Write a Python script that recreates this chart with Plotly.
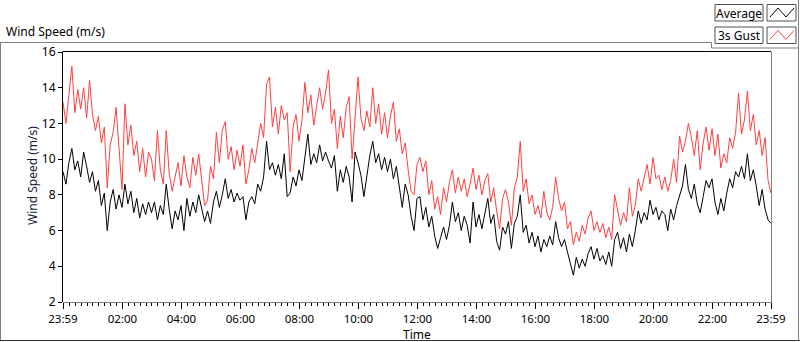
import pandas as pd
import plotly.graph_objects as go

# ---- data (one sample every 6 minutes) ----
start_time = "2015-03-01 23:59"
step = "6min"

average = [
 9.3, 8.6, 9.8, 10.6, 9.4, 9.9, 9.0, 10.4, 9.6, 8.7,
 9.3, 8.2, 8.8, 7.4, 8.1, 6.0, 7.6, 8.3, 7.2, 8.0,
 7.3, 8.6, 7.5, 8.2, 7.0, 7.8, 6.7, 7.5, 6.9, 7.6,
 7.0, 7.6, 6.6, 7.4, 6.9, 8.6, 7.2, 6.1, 7.1, 6.6,
 7.4, 6.0, 7.8, 6.8, 7.6, 7.0, 8.0, 7.2, 6.5, 7.1,
 6.4, 7.6, 8.2, 7.3, 8.0, 8.9, 7.8, 8.3, 7.6, 8.1,
 7.7, 7.9, 6.6, 7.6, 7.9, 7.5, 8.6, 8.2, 9.0, 11.0,
 9.4, 9.8, 9.1, 9.7, 8.9, 10.3, 7.9, 8.1, 9.0, 8.5,
 9.4, 8.8, 10.0, 11.4, 9.7, 10.3, 9.8, 10.8, 9.9, 10.4,
 9.9, 9.5, 10.2, 8.2, 9.4, 8.7, 9.6, 9.0, 7.6, 10.4,
 9.8, 9.1, 7.9, 9.0, 10.2, 11.0, 9.8, 10.3, 9.4, 10.1,
 9.3, 10.0, 8.9, 9.6, 8.4, 7.3, 8.6, 8.0, 6.8, 6.0,
 7.8, 7.9, 6.6, 7.3, 6.2, 6.8, 5.7, 5.0, 5.6, 6.2,
 5.5, 6.3, 7.6, 6.5, 7.0, 6.0, 6.8, 6.3, 5.3, 7.6,
 6.2, 6.9, 6.1, 7.0, 7.8, 6.4, 6.9, 5.4, 4.9, 6.2,
 5.8, 6.5, 5.0, 6.4, 6.8, 8.0, 5.9, 6.3, 5.3, 5.9,
 5.1, 5.7, 4.8, 5.5, 5.1, 5.7, 5.2, 6.5, 5.6, 5.1,
 5.5, 4.8, 4.1, 3.5, 4.5, 3.9, 4.4, 4.0, 4.7, 5.1,
 4.4, 5.0, 4.3, 4.6, 4.1, 4.8, 4.0, 5.5, 5.9, 5.0,
 5.6, 4.8, 5.8, 5.1, 6.0, 7.1, 6.4, 7.0, 6.6, 7.7,
 6.9, 7.3, 6.6, 7.1, 6.9, 6.0, 7.2, 6.6, 7.4, 7.9,
 8.5, 9.7, 8.3, 7.8, 8.6, 7.5, 7.0, 7.9, 8.8, 8.4,
 8.9, 7.6, 6.9, 7.8, 7.1, 8.1, 8.9, 8.4, 9.3, 9.0,
 9.6, 8.9, 10.3, 8.8, 9.4, 8.5, 7.4, 8.3, 7.2, 6.6,
 6.4,
]

gust_3s = [
 13.2, 12.0, 13.6, 15.2, 12.6, 13.9, 12.8, 14.0, 12.3, 14.4,
 12.5, 11.6, 12.4, 10.9, 11.8, 8.4, 10.8, 11.5, 12.9, 10.4,
 8.3, 13.1, 10.8, 11.9, 10.2, 11.0, 9.3, 10.6, 9.0, 10.4,
 10.0, 8.8, 11.6, 9.4, 8.6, 11.6, 9.2, 8.2, 9.0, 9.8,
 8.5, 10.2, 9.0, 8.4, 10.1, 9.1, 10.3, 8.8, 7.4, 7.7,
 9.6, 8.9, 11.5, 9.8, 11.6, 12.1, 10.0, 10.7, 9.4, 10.5,
 9.6, 10.8, 8.6, 9.4, 10.6, 9.8, 10.9, 12.0, 11.2, 14.2,
 14.6, 11.8, 12.9, 11.4, 13.0, 12.2, 12.6, 9.3, 11.8, 12.5,
 11.0, 12.2, 14.3, 12.6, 13.6, 11.9, 13.0, 14.0, 12.8, 13.7,
 15.0, 12.0, 12.8, 10.6, 12.4, 11.2, 12.9, 13.5, 10.0, 12.2,
 14.6, 12.3, 11.6, 12.7, 11.8, 14.0, 12.0, 13.1, 11.4, 12.6,
 11.2, 12.4, 13.2, 11.0, 11.7, 10.3, 10.9, 9.4, 8.2, 8.0,
 9.7, 10.1, 9.3, 9.9, 8.0, 8.8, 7.2, 7.9, 6.9, 8.4,
 7.6, 8.7, 9.4, 8.1, 9.0, 8.2, 8.9, 7.9, 8.6, 9.5,
 8.3, 9.1, 8.0, 8.8, 9.2, 7.6, 8.4, 7.1, 6.1, 7.8,
 8.3, 7.6, 6.3, 8.4, 9.0, 11.0, 8.2, 8.9, 7.5, 8.0,
 6.9, 7.4, 6.7, 8.2, 7.0, 6.6, 7.3, 9.0, 7.8, 7.1,
 7.6, 6.1, 6.5, 5.2, 5.9, 5.4, 6.3, 5.8, 6.7, 7.1,
 6.0, 6.5, 5.9, 6.4, 5.6, 6.2, 5.5, 8.0, 7.1, 6.3,
 7.0, 6.5, 8.4, 6.8, 7.4, 8.9, 8.2, 9.0, 9.7, 8.6,
 10.1, 8.9, 9.1, 8.3, 9.0, 8.2, 8.8, 10.0, 8.7, 11.3,
 10.4, 11.0, 12.0, 11.2, 10.2, 11.6, 9.4, 10.9, 11.8, 10.5,
 11.7, 10.2, 11.4, 9.5, 10.3, 9.8, 11.2, 10.6, 11.5, 13.7,
 11.4, 12.2, 13.8, 11.6, 12.5, 10.8, 11.6, 10.2, 11.2, 8.8,
 8.1,
]

tick_times = ["2015-03-01 23:59", "2015-03-02 02:00", "2015-03-02 04:00",
              "2015-03-02 06:00", "2015-03-02 08:00", "2015-03-02 10:00",
              "2015-03-02 12:00", "2015-03-02 14:00", "2015-03-02 16:00",
              "2015-03-02 18:00", "2015-03-02 20:00", "2015-03-02 22:00",
              "2015-03-02 23:59"]
tick_labels = ["23:59", "02:00", "04:00", "06:00", "08:00", "10:00", "12:00",
               "14:00", "16:00", "18:00", "20:00", "22:00", "23:59"]
y_ticks = [2, 4, 6, 8, 10, 12, 14, 16]

times = pd.date_range(start_time, periods=len(average), freq=step)

FONT = "Noto Sans"
RED = "#FF4040"

fig = go.Figure()
fig.add_trace(go.Scatter(x=times, y=gust_3s, mode="lines", name="3s Gust",
                         line=dict(color=RED, width=1)))
fig.add_trace(go.Scatter(x=times, y=average, mode="lines", name="Average",
                         line=dict(color="#000000", width=1)))

W, H = 800, 342
L, R, T, B = 63, 29, 52, 40
PW, PH = W - L - R, H - T - B


def px(x):
    return (x - L) / PW


def py(y):
    return (H - B - y) / PH


shapes = []


def line(x0, y0, x1, y1, color, width=1):
    shapes.append(dict(type="line", xref="paper", yref="paper",
                       x0=px(x0), y0=py(y0), x1=px(x1), y1=py(y1),
                       line=dict(color=color, width=width), layer="above"))


def rect(x0, y0, x1, y1, color):
    shapes.append(dict(type="rect", xref="paper", yref="paper",
                       x0=px(x0), y0=py(y0), x1=px(x1), y1=py(y1),
                       line=dict(color=color, width=1), fillcolor="white",
                       layer="above"))


# outer frame
line(0, 42.5, 711.5, 42.5, "#808080")
line(711.5, 42.5, 711.5, 48, "#808080")
line(711.5, 48, 799, 48, "#808080")
line(0.5, 42.5, 0.5, 341, "#808080")
line(0, 340.5, 800, 340.5, "#303030")
line(798.5, 0, 798.5, 341, "#808080")

# plot border (sunken look)
line(L, T - 0.5, W - R, T - 0.5, "#000000")
line(L - 0.5, T - 0.5, L - 0.5, H - B, "#000000")
line(L, H - B + 0.5, W - R + 0.5, H - B + 0.5, "#808080")
line(W - R + 0.5, T - 0.5, W - R + 0.5, H - B + 0.5, "#808080")

# legend boxes
rect(715, 4.5, 763, 21, "#505050")
rect(767, 4.5, 796, 21, "#505050")
rect(715, 27, 763, 43.5, "#505050")
rect(767, 27, 796, 43.5, "#505050")
for (yb, yt, col) in [(17, 8, "#000000"), (39.5, 30.5, RED)]:
    pts = [(770, yb), (778, yt), (786, yb), (794, yt)]
    path = "M " + " L ".join(f"{px(a)},{py(b)}" for a, b in pts)
    shapes.append(dict(type="path", xref="paper", yref="paper", path=path,
                       line=dict(color=col, width=1), layer="above"))


def label(text, x, y, angle=0, color="#000000", anchor="center"):
    return dict(text=text, xref="paper", yref="paper", x=px(x), y=py(y),
                xanchor=anchor, yanchor="middle", showarrow=False,
                textangle=angle,
                font=dict(family=FONT, size=12, color=color))


annotations = [
    label("Wind Speed (m/s)", 4, 32, anchor="left"),
    label("Average", 739, 13),
    label("3s Gust", 739, 35.5),
    label("Wind Speed (m/s)", 32, 176, angle=-90, color="#1a1a40"),
    label("Time", 417, 334),
]

fig.update_layout(
    width=W, height=H,
    margin=dict(l=L, r=R, t=T, b=B, pad=0),
    paper_bgcolor="white", plot_bgcolor="white",
    showlegend=False,
    shapes=shapes, annotations=annotations,
    font=dict(family=FONT, size=12, color="#000000"),
    xaxis=dict(
        automargin=False,
        range=[tick_times[0], tick_times[-1]],
        tickmode="array", tickvals=tick_times, ticktext=tick_labels,
        ticks="outside", ticklen=6, tickcolor="#000000", tickwidth=1,
        showgrid=False, zeroline=False, showline=False,
        tickfont=dict(family=FONT, size=11.5, color="#000000"),
        minor=dict(ticks="outside", ticklen=3, tickcolor="#000000",
                   dtick=12 * 60 * 1000, tick0="2015-03-02 02:00",
                   showgrid=False),
    ),
    yaxis=dict(
        automargin=False,
        range=[2, 16], tickmode="array", tickvals=y_ticks,
        ticks="outside", ticklen=4, tickcolor="#000000",
        showgrid=False, zeroline=False, showline=False,
        tickfont=dict(family=FONT, size=12, color="#000000"),
    ),
)

fig.write_html("out.html",
               config={"displayModeBar": False},
               post_script="document.body.style.margin='0';"
                           "document.body.style.overflow='hidden';")
